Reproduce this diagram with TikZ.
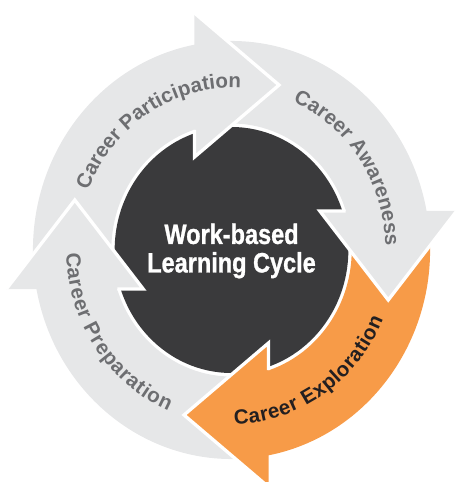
\documentclass[tikz,border=0pt]{standalone}
\usepackage{fontspec}
\setmainfont{Liberation Sans}
\newfontfamily\condfont[FakeStretch=0.84, FakeBold=1]{Liberation Sans}
\usepackage{tikz}
\usetikzlibrary{decorations.text}
\definecolor{ringgray}{RGB}{230,231,232}
\definecolor{labelgray}{RGB}{109,110,113}
\definecolor{hubdark}{RGB}{58,58,60}
\definecolor{exporange}{RGB}{247,155,72}
\definecolor{labelblack}{RGB}{35,31,32}
\newcommand{\labelfont}{\fontsize{20.5}{20.5}\selectfont\bfseries}
\tikzstyle{headedge} = [draw=white, line width=3.3pt, line join=miter]
\tikzstyle{hubtext} = [text=white, align=center, font=\condfont\bfseries\fontsize{28}{28.5}\selectfont]
\tikzstyle{ringlabel} = [decorate, decoration={text along path, text align=fit to path}]

\begin{document}
\begin{tikzpicture}[x=0.95pt, y=1pt]
    \useasboundingbox (-243.7,-232) rectangle (235.3,250);

    % Arrow bodies
    \foreach \a/\c in {188/ringgray, 98/ringgray, 8/exporange, -82/ringgray}
        \fill[\c] (\a:209) arc[start angle=\a, end angle=\a-90, radius=209]
            -- ({\a-90}:126.5) arc[start angle=\a-90, end angle=\a, radius=126.5] -- cycle;

    % Hub
    \fill[hubdark] (0,0) circle[radius=123];

    % Arrow heads
    \foreach \r/\c in {0/ringgray, 90/ringgray, 180/exporange, 270/ringgray} {
        \fill[\c] ({99.35-\r}:240.2) -- ({112.75-\r}:100.8) -- ({73.14-\r}:172.4) -- cycle;
        \draw[headedge] ({108-\r}:126.2) -- ({112.75-\r}:100.8) -- ({73.14-\r}:172.4) -- ({99.35-\r}:240.2);
    }

    \node[hubtext] (hub) at (0,-1) {Work-based\\Learning Cycle};

    % Ring labels
    \path[ringlabel, decoration={text={|\labelfont\color{labelgray}|Career Participation}}]
        (158.5:162) arc[start angle=158.5, end angle=86.5, radius=162];
    \path[ringlabel, decoration={text={|\labelfont\color{labelgray}|Career Awareness}}]
        (66.5:162) arc[start angle=66.5, end angle=1.5, radius=162];
    \path[ringlabel, decoration={text={|\labelfont\color{labelblack}|Career Exploration}}]
        (-89:174) arc[start angle=-89, end angle=-23.5, radius=174];
    \path[ringlabel, decoration={text={|\labelfont\color{labelgray}|Career Preparation}}]
        (181:174) arc[start angle=181, end angle=247.5, radius=174];
\end{tikzpicture}
\end{document}
